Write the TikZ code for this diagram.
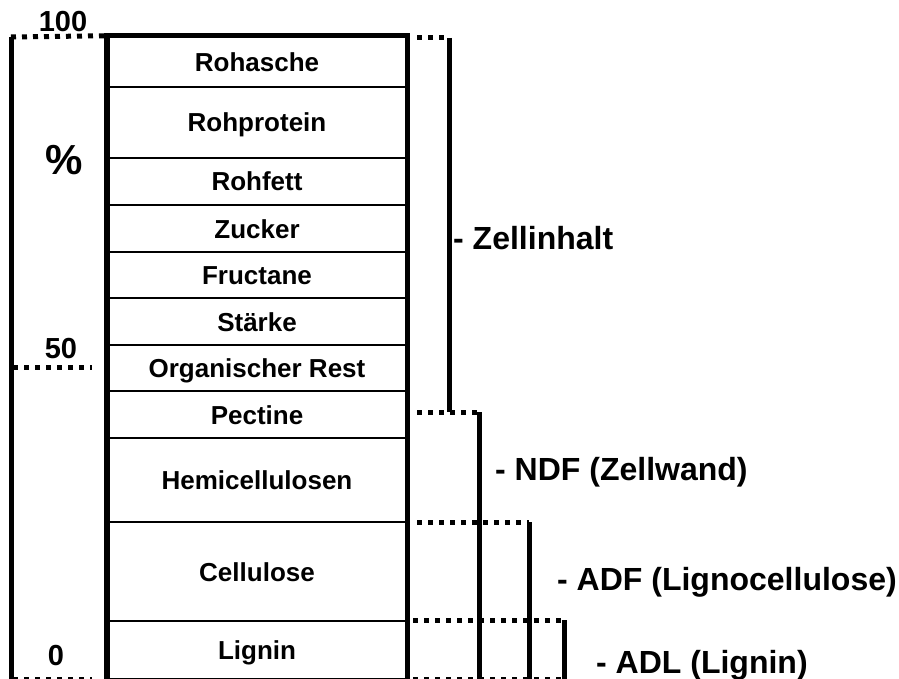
\documentclass[tikz,border=0pt]{standalone}
\usepackage{fontspec}
\setmainfont{Liberation Sans}
\usetikzlibrary{positioning}

\begin{document}
\begin{tikzpicture}[
    x=1pt, y=-1pt,
    row/.style={rectangle, draw, line width=2.5pt, minimum width=298pt, inner sep=0pt,
                text height=19pt, text depth=0pt, font=\fontsize{26}{30}\selectfont\bfseries},
    outer/.style={line width=5.5pt},
    bracket/.style={line width=5pt},
    dots/.style={line width=5pt, dash pattern=on 5pt off 6pt},
    scalelabel/.style={inner sep=0pt, font=\fontsize{29}{32}\selectfont\bfseries},
    fraction/.style={anchor=west, inner sep=0pt, font=\fontsize{32}{36}\selectfont\bfseries},
]
    \useasboundingbox (0,0) rectangle (899,679);

    % Rows of the column
    \node[row, minimum height=50pt] (rohasche) at (257,62) {Rohasche};
    \node[row, minimum height=71pt] (rohprotein) at (257,122.5) {Rohprotein};
    \node[row, minimum height=47pt] (rohfett) at (257,181.5) {Rohfett};
    \node[row, minimum height=47pt] (zucker) at (257,228.5) {Zucker};
    \node[row, minimum height=46pt] (fructane) at (257,275) {Fructane};
    \node[row, minimum height=47pt] (staerke) at (257,321.5) {Stärke};
    \node[row, minimum height=46pt] (orgrest) at (257,368) {Organischer Rest};
    \node[row, minimum height=47pt] (pectine) at (257,414.5) {Pectine};
    \node[row, minimum height=84pt] (hemi) at (257,480) {Hemicellulosen};
    \node[row, minimum height=99pt] (cellulose) at (257,571.5) {Cellulose};
    \node[row, minimum height=58pt] (lignin) at (257,650) {Lignin};

    % Outer border
    \draw[outer] (rohasche.north west) rectangle (lignin.south east);

    % Scale on the left
    \coordinate (s100) at (11,37);
    \coordinate (s50) at (13,367);
    \coordinate (s0) at (13,679);
    \coordinate (e50) at (92,367);
    \coordinate (e0) at (92,679);
    \draw[bracket] (s100) -- (11,685);
    \draw[dots] (s100) -- (rohasche.north west);
    \draw[dots] (s50) -- (e50);
    \draw[dots] (s0) -- (e0);
    \node[scalelabel] (n100) at (63,22) {100};
    \node[scalelabel] (n50) at (61,349) {50};
    \node[scalelabel] (n0) at (56,656) {0};
    \node[inner sep=0pt, font=\fontsize{42}{46}\selectfont\bfseries] (pct) at (64,160) {\%};

    % Brackets on the right
    \coordinate (zi a) at (417,38);
    \coordinate (zi top) at (449,38);
    \coordinate (zi bot) at (449,412);
    \coordinate (ndf a) at (417,412);
    \coordinate (ndf top) at (479,412);
    \coordinate (ndf bot) at (479,685);
    \coordinate (adf a) at (417,522);
    \coordinate (adf top) at (529,522);
    \coordinate (adf bot) at (529,685);
    \coordinate (adl a) at (413,620);
    \coordinate (adl top) at (564,620);
    \coordinate (adl bot) at (564,685);
    \coordinate (base a) at (413,679);
    \coordinate (base b) at (564,679);

    \draw[dots] (zi a) -- (zi top);
    \draw[bracket] (zi top) -- (zi bot);
    \draw[dots] (ndf a) -- (ndf top);
    \draw[bracket] (ndf top) -- (ndf bot);
    \draw[dots] (adf a) -- (adf top);
    \draw[bracket] (adf top) -- (adf bot);
    \draw[dots] (adl a) -- (adl top);
    \draw[bracket] (adl top) -- (adl bot);
    \draw[dots] (base a) -- (base b);

    % Labels
    \node[fraction] (zellinhalt) at (453,238) {- Zellinhalt};
    \node[fraction] (ndf) at (495,472) {- NDF (Zellwand)};
    \node[fraction] (adf) at (557,582) {- ADF (Lignocellulose)};
    \node[fraction] (adl) at (596,665) {- ADL (Lignin)};
\end{tikzpicture}
\end{document}
